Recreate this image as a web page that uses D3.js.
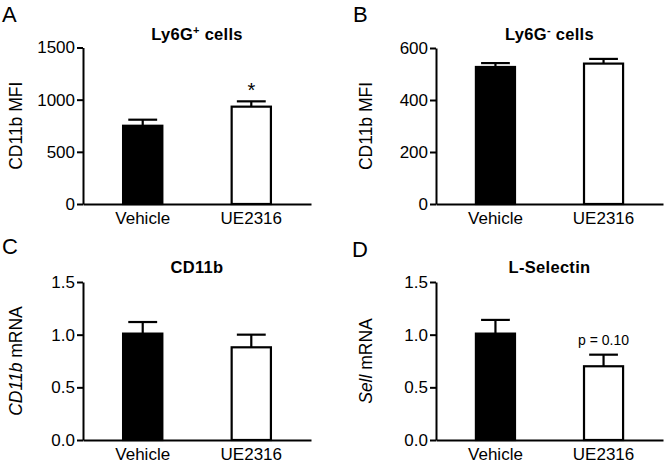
<!DOCTYPE html>
<html>
<head>
<meta charset="utf-8">
<script src="https://cdn.jsdelivr.net/npm/d3@7"></script>
<style>
  body { margin: 0; background: #fff; }
  svg text { font-family: "Liberation Sans", Arial, sans-serif; fill: #000; }
  .axis path, .axis line { stroke: #000; stroke-width: 2px; }
  .axis text { font-size: 17px; }
</style>
</head>
<body>
<svg id="chart" width="664" height="464"></svg>
<script>
// data
const categories = ["Vehicle", "UE2316"];

const ly6gPosMean = [750, 933];
const ly6gPosErr = [58, 51];
const ly6gPosTicks = [0, 500, 1000, 1500];

const ly6gNegMean = [527, 540];
const ly6gNegErr = [15, 18];
const ly6gNegTicks = [0, 200, 400, 600];

const cd11bMean = [1.01, 0.88];
const cd11bErr = [0.11, 0.12];
const mrnaTicks = [0, 0.5, 1.0, 1.5];

const sellMean = [1.01, 0.70];
const sellErr = [0.13, 0.11];

const barFills = ["#000", "#fff"];

const svg = d3.select("#chart");

function drawPanel(p)
{
    let g = svg.append("g");

    let x = d3.scaleBand()
        .domain(categories)
        .range([p.x0, p.x1])
        .paddingInner(0.62)
        .paddingOuter(0.36);

    let y = d3.scaleLinear()
        .domain([0, p.ticks[p.ticks.length - 1]])
        .range([p.y0, p.y1]);

    let rows = categories.map((c, i) => ({ cat: c, mean: p.mean[i], err: p.err[i], fill: barFills[i] }));

    // bars
    g.selectAll(".bar")
    .data(rows)
    .enter()
    .append("rect")
    .attr("x", (d) => x(d.cat) + 1)
    .attr("width", x.bandwidth() - 2)
    .attr("y", (d) => y(d.mean))
    .attr("height", (d) => y(0) - y(d.mean))
    .style("fill", (d) => d.fill)
    .style("stroke", "#000")
    .style("stroke-width", 2.2);

    // upper error bars
    let capW = x.bandwidth() * 0.7;
    g.selectAll(".err")
    .data(rows)
    .enter()
    .append("line")
    .attr("x1", (d) => x(d.cat) + x.bandwidth() / 2)
    .attr("x2", (d) => x(d.cat) + x.bandwidth() / 2)
    .attr("y1", (d) => y(d.mean))
    .attr("y2", (d) => y(d.mean + d.err))
    .style("stroke", "#000")
    .style("stroke-width", 2.2);

    g.selectAll(".cap")
    .data(rows)
    .enter()
    .append("line")
    .attr("x1", (d) => x(d.cat) + x.bandwidth() / 2 - capW / 2)
    .attr("x2", (d) => x(d.cat) + x.bandwidth() / 2 + capW / 2)
    .attr("y1", (d) => y(d.mean + d.err))
    .attr("y2", (d) => y(d.mean + d.err))
    .style("stroke", "#000")
    .style("stroke-width", 2.2);

    // axes
    g.append("g")
    .attr("class", "axis")
    .attr("transform", "translate(" + p.x0 + ",0)")
    .call(d3.axisLeft(y).tickValues(p.ticks).tickFormat(p.fmt).tickSize(6).tickSizeOuter(0).tickPadding(2));

    g.append("g")
    .attr("class", "axis")
    .attr("transform", "translate(0," + p.y0 + ")")
    .call(d3.axisBottom(x).tickSize(0).tickSizeOuter(0).tickPadding(8));

    // title with optional superscript
    let t = g.append("text")
    .attr("x", (p.x0 + p.x1) / 2)
    .attr("y", p.titleY)
    .attr("text-anchor", "middle")
    .style("font-weight", "bold")
    .style("font-size", "16.5px")
    .style("letter-spacing", "0.3px")
    .text(p.title);
    if(p.sup)
    {
        t.append("tspan").attr("dy", -6).style("font-size", "11px").text(p.sup);
        t.append("tspan").attr("dy", 6).text(p.titleRest);
    }

    // y label
    let yl = g.append("text")
    .attr("transform", "translate(" + p.labelX + "," + ((p.y0 + p.y1) / 2) + ") rotate(-90)")
    .attr("text-anchor", "middle")
    .style("font-size", "17.5px");
    if(p.italic) yl.append("tspan").style("font-style", "italic").text(p.italic);
    yl.append("tspan").text(p.ylabel);

    // panel letter
    g.append("text")
    .attr("x", p.letterX)
    .attr("y", p.letterY)
    .style("font-size", "22px")
    .text(p.letter);

    // annotation above the second bar
    if(p.note)
    {
        g.append("text")
        .attr("x", x(categories[1]) + x.bandwidth() / 2)
        .attr("y", y(p.mean[1] + p.err[1]) + p.noteDy)
        .attr("text-anchor", "middle")
        .style("font-size", p.noteSize)
        .text(p.note);
    }
}

const fmt0 = d3.format("d");
const fmt1 = d3.format(".1f");

drawPanel({ letter: "A", letterX: 2, letterY: 22, x0: 83, x1: 311, y0: 204, y1: 47.5,
    mean: ly6gPosMean, err: ly6gPosErr, ticks: ly6gPosTicks, fmt: fmt0,
    title: "Ly6G", sup: "+", titleRest: " cells", titleY: 40,
    ylabel: "CD11b MFI", labelX: 22, note: "*", noteDy: -4, noteSize: "20px" });

drawPanel({ letter: "B", letterX: 353, letterY: 22, x0: 436, x1: 663, y0: 204, y1: 48,
    mean: ly6gNegMean, err: ly6gNegErr, ticks: ly6gNegTicks, fmt: fmt0,
    title: "Ly6G", sup: "-", titleRest: " cells", titleY: 40,
    ylabel: "CD11b MFI", labelX: 372 });

drawPanel({ letter: "C", letterX: 2, letterY: 254, x0: 83, x1: 311, y0: 440, y1: 282,
    mean: cd11bMean, err: cd11bErr, ticks: mrnaTicks, fmt: fmt1,
    title: "CD11b", titleY: 273,
    italic: "CD11b", ylabel: " mRNA", labelX: 22 });

drawPanel({ letter: "D", letterX: 352, letterY: 257, x0: 436, x1: 663, y0: 440, y1: 282,
    mean: sellMean, err: sellErr, ticks: mrnaTicks, fmt: fmt1,
    title: "L-Selectin", titleY: 273,
    italic: "Sell", ylabel: " mRNA", labelX: 372, note: "p = 0.10", noteDy: -10, noteSize: "14px" });
</script>
</body>
</html>
